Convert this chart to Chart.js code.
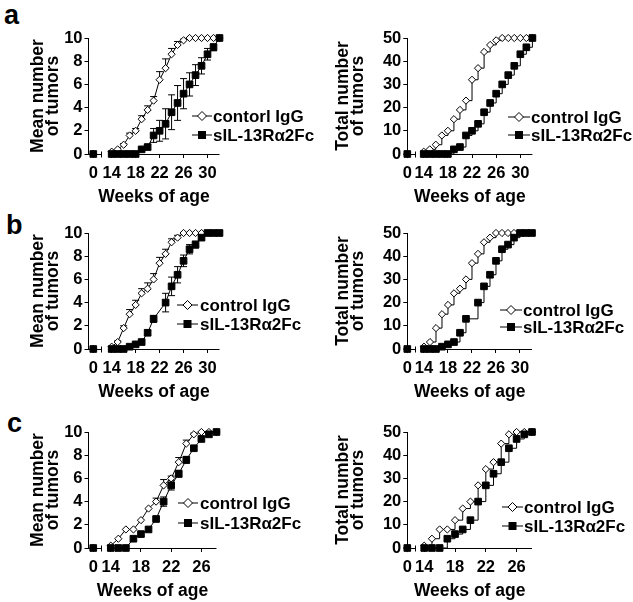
<!DOCTYPE html>
<html>
<head>
<meta charset="utf-8">
<script src="https://cdn.jsdelivr.net/npm/chart.js@4"></script>
<style>
  body { margin: 0; background: #fff; width: 633px; height: 602px; overflow: hidden; position: relative; }
  canvas { position: absolute; }
  .letter { position: absolute; font: bold 27px "Liberation Sans", Arial, sans-serif; line-height: 27px; color: #000; }
</style>
</head>
<body>
<div class="letter" style="left:4px;top:2px">a</div>
<div class="letter" style="left:6px;top:212px">b</div>
<div class="letter" style="left:7px;top:410px">c</div>

<canvas id="aMean" width="317" height="206" style="left:0;top:0"></canvas>
<canvas id="aTotal" width="316" height="206" style="left:317px;top:0"></canvas>
<canvas id="bMean" width="317" height="206" style="left:0;top:195px"></canvas>
<canvas id="bTotal" width="316" height="206" style="left:317px;top:195px"></canvas>
<canvas id="cMean" width="317" height="206" style="left:0;top:394px"></canvas>
<canvas id="cTotal" width="316" height="206" style="left:317px;top:394px"></canvas>

<script>
// weeks of age (0 sits before the axis break)
const WEEKS_AB = [0, 14, 15, 16, 17, 18, 19, 20, 21, 22, 23, 24, 25, 26, 27, 28, 29, 30, 31, 32];
const WEEKS_C = [0, 14, 15, 16, 17, 18, 19, 20, 21, 22, 23, 24, 25, 26, 27, 28];
const TICKS_AB = [14, 18, 22, 26, 30];
const TICKS_C = [14, 18, 22, 26];

// panel a
const meanCtrlA = [0, 0.2, 0.4, 0.8, 1.6, 2.0, 3.0, 3.8, 4.6, 6.4, 7.4, 8.6, 9.4, 9.8, 10, 10, 10, 10, 10, 10];
const errCtrlA  = [0, 0, 0, 0.1, 0.2, 0.2, 0.3, 0.35, 0.35, 0.7, 0.8, 0.5, 0.3, 0.1, 0, 0, 0, 0, 0, 0];
const meanSilA  = [0, 0, 0, 0, 0, 0, 0.4, 0.6, 1.6, 2.0, 2.6, 3.6, 4.4, 5.2, 6.0, 6.8, 7.6, 8.6, 9.2, 10];
const errSilA   = [0, 0, 0, 0, 0, 0, 0.1, 0.2, 0.6, 0.9, 1.3, 1.5, 1.5, 1.3, 1.0, 0.9, 0.7, 0.5, 0.3, 0];
const totCtrlA  = [0, 1, 2, 4, 8, 10, 15, 19, 23, 32, 37, 44, 47, 49, 50, 50, 50, 50, 50, 50];
const totSilA   = [0, 0, 0, 0, 0, 0, 2, 3, 8, 10, 13, 18, 22, 26, 30, 34, 38, 43, 46, 50];

// panel b
const meanCtrlB = [0, 0.2, 0.6, 1.8, 3.0, 3.8, 4.8, 5.2, 6.0, 7.4, 8.2, 9.2, 9.6, 10, 10, 10, 10, null, null, null];
const errCtrlB  = [0, 0, 0.1, 0.2, 0.4, 0.4, 0.4, 0.5, 0.5, 0.5, 0.4, 0.3, 0.2, 0, 0, 0, 0, null, null, null];
const meanSilB  = [0, 0, 0, 0, 0.2, 0.4, 0.6, 1.4, 2.6, null, 4.0, 5.4, 6.4, 7.6, 8.6, 9.0, 9.6, 10, 10, 10];
const errSilB   = [0, 0, 0, 0, 0, 0.1, 0.1, 0.2, 0.3, null, 0.8, 0.8, 0.7, 0.5, 0.4, 0.3, 0.2, 0, 0, 0];
const totCtrlB  = [0, 1, 3, 9, 15, 19, 24, 26, 30, 37, 41, 46, 48, 50, 50, 50, 50, null, null, null];
const totSilB   = [0, 0, 0, 0, 1, 2, 3, 7, 13, null, 20, 27, 32, 38, 43, 45, 48, 50, 50, 50];

// panel c
const meanCtrlC = [0, 0.2, 0.8, 1.6, 1.6, 2.4, 3.4, 4.0, 5.4, 6.0, 7.4, 9.0, 9.8, 10, 10, 10];
const errCtrlC  = [0, 0, 0, 0, 0, 0, 0, 0.3, 0.5, 0.2, 0.4, 0.3, 0.1, 0, 0, 0];
const meanSilC  = [0, 0, 0, 0, 0.8, 1.2, 1.6, 2.5, 4.0, 5.4, 6.4, 7.6, 8.6, 9.4, 9.8, 10];
const errSilC   = [0, 0, 0, 0, 0, 0, 0, 0, 0.4, 0.4, 0.3, 0.3, 0.2, 0, 0, 0];
const totCtrlC  = [0, 1, 4, 8, 8, 12, 17, 20, 27, 34, 37, 45, 49, 50, 50, 50];
const totSilC   = [0, 0, 0, 0, 4, 6, 8, 12, 20, 27, 32, 37, 43, 47, 49, 50];

const FONT = '"Liberation Sans", Arial, sans-serif';
const CLEAR = 'rgba(0,0,0,0)';

// broken x axis, error bars and the inset legend
const decor = {
  id: 'decor',
  beforeDatasetsDraw(chart, args, opts) {
    const { ctx, chartArea: ca, scales: { x, y } } = chart;
    ctx.save();
    ctx.strokeStyle = '#000';
    ctx.lineWidth = 1;
    const by = Math.round(y.getPixelForValue(0)) + 0.5;
    const brk = Math.round(x.getPixelForValue(opts.zeroAt) + 8) + 0.5;
    ctx.beginPath();
    ctx.moveTo(ca.left, by); ctx.lineTo(brk, by);
    ctx.moveTo(brk, by - 3); ctx.lineTo(brk, by + 3);
    ctx.moveTo(x.getPixelForValue(14) - 3, by); ctx.lineTo(ca.right, by);
    ctx.stroke();

    chart.data.datasets.forEach(ds => {
      if (!ds.errors) return;
      ctx.beginPath();
      ds.data.forEach((p, i) => {
        const e = ds.errors[i];
        if (!e || p.y === null) return;
        const px = x.getPixelForValue(p.x);
        const top = y.getPixelForValue(p.y + e);
        const bot = ds.errBoth ? y.getPixelForValue(p.y - e) : y.getPixelForValue(p.y);
        ctx.moveTo(px, top); ctx.lineTo(px, bot);
        ctx.moveTo(px - 3.5, top); ctx.lineTo(px + 3.5, top);
        if (ds.errBoth) { ctx.moveTo(px - 3.5, bot); ctx.lineTo(px + 3.5, bot); }
      });
      ctx.stroke();
    });
    ctx.restore();
  },
  afterDraw(chart, args, opts) {
    const L = opts.legend;
    const ctx = chart.ctx;
    ctx.save();
    ctx.strokeStyle = '#000';
    ctx.fillStyle = '#000';
    ctx.lineWidth = 1;
    ctx.font = 'bold 17px ' + FONT;
    ctx.textBaseline = 'middle';
    L.labels.forEach((label, i) => {
      const yy = L.ys[i];
      const cx = (L.x0 + L.x1) / 2;
      ctx.beginPath();
      ctx.moveTo(L.x0, yy); ctx.lineTo(L.x1, yy);
      ctx.stroke();
      ctx.beginPath();
      if (i === 0) {
        ctx.moveTo(cx - 4.5, yy); ctx.lineTo(cx, yy - 4.5);
        ctx.lineTo(cx + 4.5, yy); ctx.lineTo(cx, yy + 4.5);
        ctx.closePath();
        ctx.fillStyle = '#fff'; ctx.fill(); ctx.stroke();
        ctx.fillStyle = '#000';
      } else {
        ctx.fillRect(cx - 4, yy - 4, 8, 8);
      }
      ctx.fillText(label, L.tx, yy + 1);
    });
    ctx.restore();
  }
};

function points(weeks, vals, zeroAt) {
  return weeks.map((w, i) => ({ x: w === 0 ? zeroAt : w, y: vals[i] }));
}

function makePanel(id, p) {
  const H = 206, TOP = 38, PLOT_H = 116;
  const canvas = document.getElementById(id);
  const W = canvas.width;
  const hideFirst = { borderColor: ctx => ctx.p0DataIndex === 0 ? CLEAR : '#000' };

  new Chart(canvas, {
    type: 'line',
    data: {
      datasets: [
        {
          label: p.labels[0],
          data: points(p.weeks, p.ctrl, p.zeroAt),
          errors: p.ctrlErr ? p.ctrlErr : null,
          errBoth: false,
          order: 1,
          borderColor: '#000', borderWidth: 1,
          pointStyle: 'rectRot', pointRadius: 3.6,
          pointBackgroundColor: '#fff', pointBorderColor: '#000', pointBorderWidth: 1,
          stepped: p.stepped, spanGaps: true, clip: false, segment: hideFirst
        },
        {
          label: p.labels[1],
          data: points(p.weeks, p.sil, p.zeroAt),
          errors: p.silErr ? p.silErr : null,
          errBoth: true,
          order: 0,
          borderColor: '#000', borderWidth: 1,
          pointStyle: 'rect', pointRadius: 4.7,
          pointBackgroundColor: '#000', pointBorderColor: '#000', pointBorderWidth: 1,
          stepped: p.stepped, spanGaps: true, clip: false, segment: hideFirst
        }
      ]
    },
    options: {
      responsive: false,
      animation: false,
      devicePixelRatio: 1,
      events: [],
      layout: { padding: { left: p.padLeft, top: TOP, right: W - p.chartRight, bottom: 0 } },
      scales: {
        x: {
          type: 'linear',
          min: p.xMin,
          max: p.xMax,
          afterBuildTicks: s => { s.ticks = [p.zeroAt].concat(p.xTicks).map(v => ({ value: v })); },
          afterFit: s => { s.height = H - TOP - PLOT_H; },
          border: { display: false },
          grid: {
            drawOnChartArea: false, tickLength: 4, lineWidth: 1,
            color: ctx => (ctx.tick && ctx.tick.value === p.zeroAt) ? CLEAR : '#000'
          },
          ticks: {
            autoSkip: false, maxRotation: 0, padding: 6, color: '#000',
            font: { family: FONT, size: 16.5, weight: 'bold' },
            callback: v => v === p.zeroAt ? '0' : String(v)
          },
          title: {
            display: true, text: 'Weeks of age', color: '#000',
            font: { family: FONT, size: 17.5, weight: 'bold', lineHeight: 1 },
            padding: { top: 0, bottom: 0 }
          }
        },
        y: {
          min: 0,
          max: p.yMax,
          afterFit: s => { s.width = p.chartLeft - p.padLeft; },
          border: { display: true, color: '#000', width: 1 },
          grid: { drawOnChartArea: false, tickLength: 4, color: '#000', lineWidth: 1 },
          ticks: {
            stepSize: p.yStep, padding: 2, color: '#000',
            font: { family: FONT, size: 16.5, weight: 'bold' }
          },
          title: {
            display: true, text: p.yTitle, color: '#000',
            font: { family: FONT, size: 17.5, weight: 'bold', lineHeight: 0.9 },
            padding: { top: p.titlePad, bottom: 0 }
          }
        }
      },
      plugins: {
        legend: { display: false },
        tooltip: { enabled: false },
        decor: { zeroAt: p.zeroAt, legend: p.legend }
      }
    },
    plugins: [decor]
  });
}

const MEAN_TITLE = ['Mean number', 'of tumors'];
const TOTAL_TITLE = ['Total number', 'of tumors'];
const LABELS = ['control IgG', 'sIL-13R\u03b12Fc'];

makePanel('aMean', {
  weeks: WEEKS_AB, ctrl: meanCtrlA, sil: meanSilA, ctrlErr: errCtrlA, silErr: errSilA, stepped: false,
  chartLeft: 88.5, chartRight: 219.5, padLeft: 26, titlePad: 4, xMin: 10.13, xMax: 32, zeroAt: 10.93, xTicks: TICKS_AB,
  yMax: 10, yStep: 2, yTitle: MEAN_TITLE,
  labels: ['contorl IgG', LABELS[1]],
  legend: { x0: 192, x1: 212, tx: 213, ys: [116, 135], labels: ['contorl IgG', LABELS[1]] }
});
makePanel('aTotal', {
  weeks: WEEKS_AB, ctrl: totCtrlA, sil: totSilA, stepped: true,
  chartLeft: 90.3, chartRight: 215.4, padLeft: 12, titlePad: 6, xMin: 11.28, xMax: 32, zeroAt: 11.28, xTicks: TICKS_AB,
  yMax: 50, yStep: 10, yTitle: TOTAL_TITLE, labels: LABELS,
  legend: { x0: 191, x1: 213, tx: 214, ys: [117, 135], labels: LABELS }
});
makePanel('bMean', {
  weeks: WEEKS_AB, ctrl: meanCtrlB, sil: meanSilB, ctrlErr: errCtrlB, silErr: errSilB, stepped: false,
  chartLeft: 88.5, chartRight: 219.5, padLeft: 26, titlePad: 4, xMin: 10.13, xMax: 32, zeroAt: 10.93, xTicks: TICKS_AB,
  yMax: 10, yStep: 2, yTitle: MEAN_TITLE, labels: LABELS,
  legend: { x0: 177, x1: 198, tx: 200, ys: [110, 129], labels: LABELS }
});
makePanel('bTotal', {
  weeks: WEEKS_AB, ctrl: totCtrlB, sil: totSilB, stepped: true,
  chartLeft: 90.3, chartRight: 215, padLeft: 12, titlePad: 6, xMin: 11.22, xMax: 32, zeroAt: 11.22, xTicks: TICKS_AB,
  yMax: 50, yStep: 10, yTitle: TOTAL_TITLE, labels: LABELS,
  legend: { x0: 183, x1: 205, tx: 206, ys: [115, 132], labels: LABELS }
});
makePanel('cMean', {
  weeks: WEEKS_C, ctrl: meanCtrlC, sil: meanSilC, ctrlErr: errCtrlC, silErr: errSilC, stepped: false,
  chartLeft: 88.5, chartRight: 216.5, padLeft: 26, titlePad: 4, xMin: 11.05, xMax: 28, zeroAt: 11.68, xTicks: TICKS_C,
  yMax: 10, yStep: 2, yTitle: MEAN_TITLE, labels: LABELS,
  legend: { x0: 178, x1: 198, tx: 200, ys: [109, 129], labels: LABELS }
});
makePanel('cTotal', {
  weeks: WEEKS_C, ctrl: totCtrlC, sil: totSilC, stepped: true,
  chartLeft: 90.3, chartRight: 215, padLeft: 12, titlePad: 6, xMin: 11.8, xMax: 28, zeroAt: 11.8, xTicks: TICKS_C,
  yMax: 50, yStep: 10, yTitle: TOTAL_TITLE, labels: LABELS,
  legend: { x0: 185, x1: 206, tx: 207, ys: [113, 132], labels: LABELS }
});
</script>
</body>
</html>
